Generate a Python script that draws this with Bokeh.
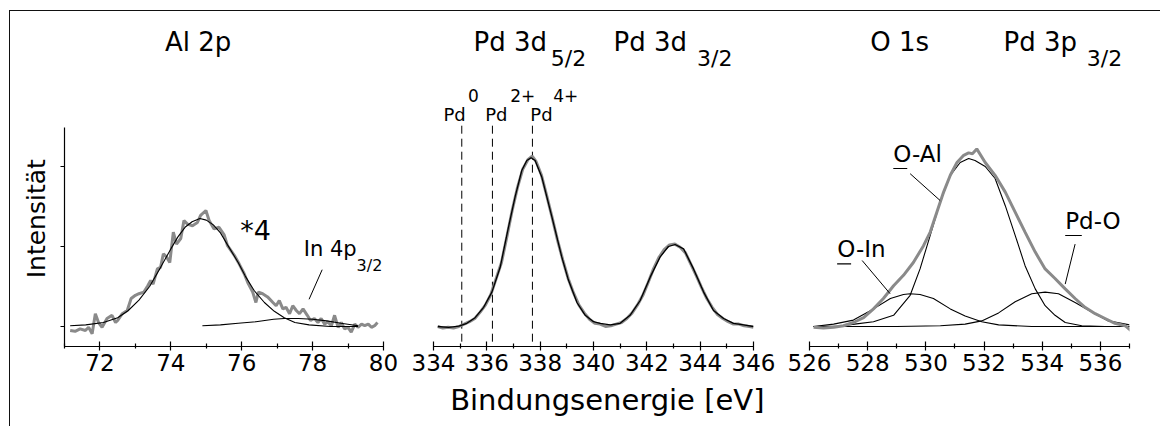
import numpy as np
from bokeh.plotting import figure
from bokeh.layouts import row
from bokeh.models import FixedTicker, LinearAxis, Range1d
from bokeh.core.properties import value
from bokeh.embed import file_html
from bokeh.resources import INLINE

FONT = "DejaVu Sans"
GRAY = "#8a8a8a"
NBSP = "\u00a0"

# ---------------- data: Al 2p (measured, x4) ----------------
al_x = [71.16, 71.30, 71.44, 71.59, 71.68, 71.78, 71.87, 71.96, 72.06, 72.20,
        72.34, 72.44, 72.50, 72.63, 72.77, 72.88, 73.00, 73.10, 73.24, 73.35,
        73.43, 73.50, 73.62, 73.71, 73.79, 73.88, 73.97, 74.07, 74.16, 74.28,
        74.37, 74.47, 74.61, 74.75, 74.84, 74.99, 75.08, 75.22, 75.36, 75.50,
        75.60, 75.79, 75.93, 76.07, 76.17, 76.31, 76.40, 76.47, 76.59, 76.73,
        76.88, 76.97, 77.06, 77.16, 77.25, 77.35, 77.44, 77.54, 77.63, 77.73,
        77.85, 77.94, 78.05, 78.15, 78.24, 78.34, 78.43, 78.53, 78.62, 78.72,
        78.81, 78.90, 79.00, 79.09, 79.19, 79.28, 79.38, 79.47, 79.57, 79.66,
        79.75, 79.83]
al_y = [-0.05, -0.06, -0.03, -0.05, -0.01, -0.09, 0.16, 0.05, -0.01, 0.10,
        0.14, 0.05, 0.075, 0.16, 0.20, 0.35, 0.39, 0.41, 0.43, 0.51,
        0.575, 0.53, 0.72, 0.74, 0.91, 0.87, 0.80, 1.18, 1.03, 1.10,
        1.325, 1.28, 1.26, 1.30, 1.39, 1.45, 1.325, 1.22, 1.24, 1.15,
        1.01, 0.89, 0.78, 0.66, 0.55, 0.43, 0.30, 0.43, 0.41, 0.37,
        0.30, 0.26, 0.325, 0.22, 0.24, 0.16, 0.26, 0.20, 0.16, 0.22,
        0.14, 0.075, 0.10, 0.05, 0.10, 0.03, 0.06, 0.01, 0.14, -0.01,
        0.05, -0.03, -0.01, -0.07, 0.03, -0.01, 0.03, 0.01, 0.03, -0.01,
        0.01, 0.05]
al_fit_x = [71.16, 71.60, 72.10, 72.50, 72.80, 73.10, 73.40, 73.70, 74.00, 74.20,
            74.40, 74.60, 74.82, 75.00, 75.20, 75.40, 75.60, 75.90, 76.10, 76.35,
            76.64, 76.92, 77.20, 77.50, 77.90, 78.50, 79.28]
al_fit_y = [0.01, 0.02, 0.05, 0.11, 0.20, 0.33, 0.50, 0.73, 0.97, 1.12,
            1.24, 1.31, 1.35, 1.33, 1.27, 1.17, 1.02, 0.80, 0.63, 0.45,
            0.30, 0.19, 0.11, 0.05, 0.02, 0.00, 0.00]
in_fit_x = [74.89, 75.40, 75.90, 76.40, 76.90, 77.20, 77.60, 78.00, 78.40, 78.80, 79.28]
in_fit_y = [0.01, 0.02, 0.04, 0.06, 0.09, 0.10, 0.10, 0.09, 0.07, 0.04, 0.01]

# ---------------- data: Pd 3d ----------------
pd_x = [334.16, 334.35, 334.55, 334.75, 334.95, 335.15, 335.35, 335.55, 335.75, 335.95,
        336.15, 336.35, 336.55, 336.75, 336.95, 337.15, 337.35, 337.55, 337.70, 337.85,
        338.05, 338.25, 338.45, 338.65, 338.85, 339.05, 339.25, 339.45, 339.65, 339.85,
        340.05, 340.25, 340.45, 340.65, 340.85, 341.05, 341.25, 341.45, 341.65, 341.85,
        342.05, 342.25, 342.45, 342.65, 342.85, 343.05, 343.25, 343.45, 343.65, 343.85,
        344.05, 344.25, 344.45, 344.65, 344.85, 345.05, 345.25, 345.45, 345.65, 345.85,
        346.00]
pd_y = [0.00, -0.02, -0.01, -0.02, 0.00, 0.03, 0.06, 0.10, 0.18, 0.27,
        0.40, 0.60, 0.80, 1.12, 1.45, 1.74, 1.97, 2.09, 2.13, 2.06,
        1.89, 1.63, 1.36, 1.08, 0.83, 0.60, 0.42, 0.27, 0.17, 0.09,
        0.04, 0.03, 0.00, 0.01, 0.03, 0.05, 0.10, 0.17, 0.27, 0.39,
        0.55, 0.72, 0.86, 0.96, 1.02, 1.03, 0.99, 0.92, 0.78, 0.64,
        0.49, 0.35, 0.24, 0.15, 0.10, 0.06, 0.03, 0.03, 0.01, 0.00,
        -0.01]
pd_fit_x = [334.16, 334.57, 334.95, 335.25, 335.56, 335.88, 336.19, 336.50, 336.81, 337.06,
            337.31, 337.50, 337.66, 337.81, 338.06, 338.44, 338.81, 339.06, 339.38, 339.69,
            340.00, 340.25, 340.63, 341.00, 341.37, 341.75, 342.13, 342.50, 342.81, 343.06,
            343.38, 343.75, 344.13, 344.50, 344.88, 345.25, 345.63, 346.00]
pd_fit_y = [0.00, -0.01, 0.005, 0.04, 0.11, 0.24, 0.43, 0.74, 1.24, 1.62,
            1.95, 2.075, 2.11, 2.075, 1.87, 1.37, 0.87, 0.58, 0.30, 0.14,
            0.06, 0.04, 0.02, 0.04, 0.14, 0.325, 0.62, 0.87, 1.00, 1.025,
            0.97, 0.72, 0.43, 0.20, 0.10, 0.04, 0.02, 0.00]
pd_state_x = [335.06, 336.21, 337.71]
pd_state_name = ["Pd", "Pd", "Pd"]
pd_state_sup = ["0", "2+", "4+"]

# ---------------- data: O 1s ----------------
o_x = [526.14, 526.48, 526.83, 527.17, 527.51, 527.86, 528.20, 528.54, 528.89, 529.23,
       529.57, 529.92, 530.15, 530.38, 530.61, 530.84, 531.07, 531.30, 531.47, 531.60,
       531.75, 532.04, 532.38, 532.73, 533.07, 533.41, 533.76, 534.10, 534.44, 534.79,
       535.13, 535.47, 535.82, 536.16, 536.50, 536.85, 537.08]
o_y = [-0.01, -0.02, -0.01, 0.01, 0.05, 0.11, 0.22, 0.35, 0.51, 0.64,
       0.80, 1.01, 1.18, 1.43, 1.68, 1.89, 2.05, 2.14, 2.17, 2.16,
       2.22, 2.05, 1.89, 1.68, 1.43, 1.18, 0.93, 0.72, 0.60, 0.47,
       0.35, 0.24, 0.16, 0.10, 0.04, 0.01, -0.06]
oal_x = [526.14, 527.00, 527.55, 528.20, 528.89, 529.46, 529.80, 530.15, 530.49, 530.84,
         531.18, 531.47, 531.69, 532.04, 532.38, 532.73, 533.07, 533.41, 533.76, 534.10,
         534.44, 534.79, 535.36, 536.16, 537.00]
oal_y = [0.00, 0.005, 0.03, 0.06, 0.14, 0.39, 0.72, 1.14, 1.55, 1.89,
         2.05, 2.10, 2.075, 2.00, 1.85, 1.51, 1.14, 0.76, 0.47, 0.26,
         0.14, 0.05, 0.01, 0.00, 0.00]
oin_x = [526.14, 526.83, 527.51, 528.20, 528.78, 529.23, 529.46, 529.80, 530.26, 530.84,
         531.35, 531.92, 532.50, 533.64, 537.00]
oin_y = [0.00, 0.03, 0.08, 0.22, 0.35, 0.40, 0.41, 0.40, 0.35, 0.22,
         0.13, 0.06, 0.02, 0.00, 0.00]
pdo_x = [526.14, 529.00, 530.50, 531.35, 531.92, 532.50, 533.07, 533.64, 534.10, 534.56,
         535.13, 535.70, 536.27, 537.00]
pdo_y = [0.00, 0.00, 0.01, 0.03, 0.07, 0.17, 0.31, 0.41, 0.43, 0.41,
         0.30, 0.18, 0.07, 0.02]

# ---------------- ticks ----------------
al_ticks = [72, 74, 76, 78, 80]
al_minor = [71, 73, 75, 77, 79]
pd_ticks = [334, 336, 338, 340, 342, 344, 346]
pd_minor = [335, 337, 339, 341, 343, 345]
o_ticks = [526, 528, 530, 532, 534, 536]
o_minor = [527, 529, 531, 533, 535, 537]
y_ticks = [0, 1, 2]

Y0, Y1 = -0.25, 3.9375
YTOP = 2.4875


def make_fig(width, xr, left, right, ticks, minor, show_y=False):
    p = figure(width=width, height=415, x_range=Range1d(*xr), y_range=Range1d(Y0, Y1),
               output_backend="svg", toolbar_location=None,
               min_border_left=left, min_border_right=right,
               min_border_top=0, min_border_bottom=80,
               y_axis_location="left" if show_y else None)
    p.grid.visible = False
    p.outline_line_color = None
    ax = p.xaxis[0]
    ax.ticker = FixedTicker(ticks=ticks, minor_ticks=minor)
    ax.axis_line_color = "black"
    ax.axis_line_width = 1.2
    ax.major_tick_line_color = "black"
    ax.minor_tick_line_color = "black"
    ax.major_tick_line_width = 1.2
    ax.minor_tick_line_width = 1.2
    ax.major_tick_in = 5
    ax.major_tick_out = 4
    ax.minor_tick_in = 3
    ax.minor_tick_out = 2
    ax.major_label_text_font = FONT
    ax.major_label_text_font_size = "23px"
    ax.major_label_text_color = "black"
    ax.major_label_standoff = 3
    if show_y:
        ya = p.yaxis[0]
        ya.bounds = (Y0, YTOP)
        ya.ticker = FixedTicker(ticks=y_ticks, minor_ticks=[])
        ya.axis_line_color = "black"
        ya.axis_line_width = 1.2
        ya.major_tick_line_color = "black"
        ya.major_tick_line_width = 1.2
        ya.major_tick_in = 0
        ya.major_tick_out = 4
        ya.minor_tick_line_color = None
        ya.major_label_overrides = {0: "", 1: "", 2: ""}
        ya.major_label_standoff = 0
    return p


def label_axis(text, size, standoff):
    return LinearAxis(axis_label=text,
                      ticker=FixedTicker(ticks=[], minor_ticks=[]),
                      axis_line_color=None, major_tick_line_color=None,
                      minor_tick_line_color=None, major_tick_in=0, major_tick_out=0,
                      major_label_standoff=0,
                      axis_label_text_font=FONT, axis_label_text_font_size=size,
                      axis_label_text_font_style="normal", axis_label_text_color="black",
                      axis_label_standoff=standoff)


def txt(p, x, y, s, size, align="left"):
    # y is the vertical middle of the capitals
    p.text(x=x, y=y, text=s, text_font=value(FONT), text_font_size=value(size),
           text_align=align, text_baseline="alphabetic", text_color="black")


# ---------------- panel 1: Al 2p ----------------
p1 = make_fig(390, (71, 80), 54, 17, al_ticks, al_minor, show_y=True)
p1.add_layout(label_axis("Intensität" + NBSP * 10, "25px", 10), "left")
p1.line(al_x, al_y, line_color=GRAY, line_width=3)
p1.line(al_fit_x, al_fit_y, line_color="black", line_width=1.1)
p1.line(in_fit_x, in_fit_y, line_color="black", line_width=1.1)
txt(p1, [74.77], [3.5625], ["Al 2p"], "26px", align="center")
txt(p1, [75.96], [1.204], ["*4"], "27px")
txt(p1, [77.75], [0.966], ["In 4p"], "21px")
txt(p1, [79.24], [0.7625], ["3/2"], "16px")
p1.segment(x0=[78.27], y0=[0.71], x1=[77.90], y1=[0.34], line_color="black", line_width=1)

# ---------------- panel 2: Pd 3d ----------------
p2 = make_fig(380, (334, 346), 33, 27, pd_ticks, pd_minor)
p2.add_layout(label_axis(NBSP * 3 + "Bindungsenergie [eV]", "29px", 9), "below")
p2.segment(x0=pd_state_x, y0=[2.51] * 3, x1=pd_state_x, y1=[Y0] * 3,
           line_color="black", line_width=1, line_dash="8 5")
p2.line(pd_x, pd_y, line_color=GRAY, line_width=3)
p2.line(pd_fit_x, pd_fit_y, line_color="black", line_width=1.3)
txt(p2, [335.5, 340.75], [3.5625, 3.5625], ["Pd 3d", "Pd 3d"], "26px")
txt(p2, [338.4, 343.88], [3.356, 3.356], ["5/2", "3/2"], "22px")
txt(p2, [334.375, 335.94, 337.63], [2.65] * 3, pd_state_name, "18px")
txt(p2, [335.29, 336.88, 338.49], [2.8875] * 3, pd_state_sup, "17px")

# ---------------- panel 3: O 1s ----------------
p3 = make_fig(380, (526, 537), 29, 31, o_ticks, o_minor)
p3.line(oal_x, oal_y, line_color="black", line_width=1.1)
p3.line(oin_x, oin_y, line_color="black", line_width=1.1)
p3.line(pdo_x, pdo_y, line_color="black", line_width=1.1)
p3.line(o_x, o_y, line_color=GRAY, line_width=3)
txt(p3, [528.09, 532.67], [3.5625, 3.5625], ["O 1s", "Pd 3p"], "26px")
txt(p3, [535.53], [3.356], ["3/2"], "22px")
txt(p3, [528.88, 526.95, 534.79], [2.159, 0.971, 1.325], ["O-Al", "O-In", "Pd-O"], "23px")
# underlines and pointer lines
p3.segment(x0=[528.88, 526.95, 534.79], y0=[1.975, 0.783, 1.1375],
           x1=[529.36, 527.43, 535.36], y1=[1.975, 0.783, 1.1375],
           line_color="black", line_width=1.2)
p3.segment(x0=[529.46, 527.81, 535.13], y0=[1.91, 0.825, 1.03],
           x1=[530.49, 528.77, 534.79], y1=[1.575, 0.41, 0.53],
           line_color="black", line_width=1)

layout = row(p1, p2, p3, margin=(10, 0, 0, 9),
             styles={"border-top": "1.5px solid #111", "border-left": "1.5px solid #111"})

open("out.html", "w").write(file_html(layout, INLINE))
